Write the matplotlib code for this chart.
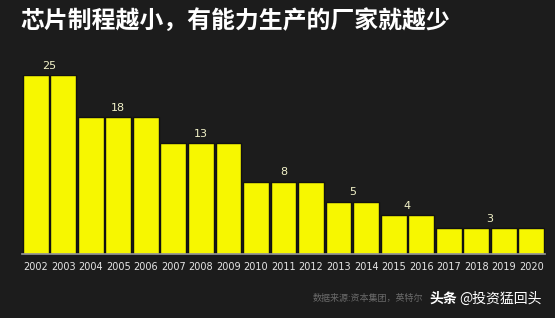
import matplotlib

matplotlib.use("Agg")
import matplotlib.pyplot as plt

plt.rcParams["font.family"] = ["Noto Sans CJK SC", "DejaVu Sans"]

# 年份与厂家数量（标签）
years = [str(y) for y in range(2002, 2021)]
maker_counts = [25, 25, 18, 18, 18, 13, 13, 13, 8, 8, 8, 5, 5, 4, 4, 3, 3, 3, 3]
# 原图柱高并非按比例绘制，这里按图上读出的高度（以 25 为满刻度）
bar_heights = [25, 25, 19.1, 19.1, 19.1, 15.5, 15.5, 15.5, 10.1, 10.1, 10.1,
               7.3, 7.3, 5.4, 5.4, 3.6, 3.6, 3.6, 3.6]
# 每组只标一次数值：标签所在位置（柱序号，可为两柱之间）
label_pos = [0.5, 3, 6, 9, 11.5, 13.5, 16.5]
label_idx = [0, 3, 6, 9, 11, 13, 16]

title = "芯片制程越小，有能力生产的厂家就越少"
source = "数据来源:资本集团，英特尔"
watermark_bold = "头条"
watermark = "@投资猛回头"

bg = "#1c1c1c"
fig = plt.figure(figsize=(5.55, 3.18), dpi=100, facecolor=bg)
ax = fig.add_axes([22 / 555, 1 - 254 / 318, 523 / 555, 179 / 318])
ax.set_facecolor(bg)

x = list(range(len(years)))
ax.bar(x, bar_heights, width=0.94, color="#f7f700", edgecolor="#111111", linewidth=1.0, zorder=2)

for pos, i in zip(label_pos, label_idx):
    ax.text(pos, bar_heights[i] + 0.6, str(maker_counts[i]), ha="center", va="bottom",
            color="#f2f2c8", fontsize=8, family="DejaVu Sans", clip_on=False)

ax.set_xlim(-0.5, len(years) - 0.5)
ax.set_ylim(0, 25)
ax.set_xticks(x)
ax.set_xticklabels(years, color="#e6e6e6", fontsize=7, family="DejaVu Sans")
ax.tick_params(axis="x", length=0, pad=6)
ax.set_yticks([])
for side in ["top", "right", "left"]:
    ax.spines[side].set_visible(False)
ax.spines["bottom"].set_color("#9a9a9a")
ax.spines["bottom"].set_linewidth(1.2)

fig.text(20 / 555, 1 - 21 / 318, title, color="white", fontsize=17.2, fontweight="bold",
         ha="left", va="center")
fig.text(313 / 555, 1 - 299 / 318, source, color="#6a6a6a", fontsize=6.5,
         ha="left", va="center")
fig.text(429 / 555, 1 - 299 / 318, watermark_bold, color="white", fontsize=10, fontweight="bold",
         ha="left", va="center",
         bbox=dict(facecolor=bg, edgecolor="none", pad=0.5))
fig.text(459 / 555, 1 - 299 / 318, watermark, color="white", fontsize=10,
         ha="left", va="center")

fig.savefig("out.png", dpi=100, facecolor=bg)
